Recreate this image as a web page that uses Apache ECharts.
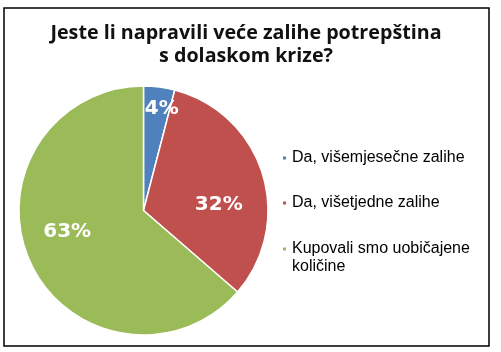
<!DOCTYPE html>
<html>
<head>
<meta charset="utf-8">
<script src="https://cdn.jsdelivr.net/npm/echarts@6/dist/echarts.min.js"></script>
<style>html,body{margin:0;padding:0;background:#fff;}#c{width:501px;height:352px;}</style>
</head>
<body>
<div id="c"></div>
<script>
const categories = ['Da, višemjesečne zalihe', 'Da, višetjedne zalihe', 'Kupovali smo uobičajene količine'];
const values = [4, 32, 63];
const colors = ['#4F81BD', '#C0504D', '#9BBB59'];
const labelOffsets = [[10, -37], [13, 14], [-17, -6]];

const chart = echarts.init(document.getElementById('c'), null, {renderer: 'canvas'});
const legendTops = [149, 194, 222];
const legends = categories.map((name, i) => ({
  data: [name],
  left: 281,
  top: legendTops[i],
  padding: 0,
  orient: 'vertical',
  icon: 'rect',
  itemWidth: 5,
  itemHeight: 5,
  itemGap: 0,
  selectedMode: false,
  formatter: n => n === categories[2] ? ' \nKupovali smo uobičajene\nkoličine' : n,
  textStyle: {fontFamily: 'Liberation Sans', fontSize: 16, color: '#000', lineHeight: 18}
}));
chart.setOption({
  animation: false,
  backgroundColor: '#fff',
  title: {
    text: 'Jeste li napravili veće zalihe potrepština\ns dolaskom krize?',
    left: 246,
    top: 22,
    padding: 0,
    textAlign: 'center',
    textStyle: {fontFamily: 'Open Sans', fontWeight: 'bold', fontSize: 19.7, color: '#111', lineHeight: 23}
  },
  legend: legends,
  graphic: [{
    type: 'rect', shape: {x: 4, y: 8, width: 485, height: 338},
    style: {fill: 'none', stroke: '#000', lineWidth: 1.5}, silent: true
  }],
  series: [{
    type: 'pie',
    center: [143.5, 210.5],
    radius: 124.5,
    startAngle: 90,
    clockwise: true,
    itemStyle: {borderColor: '#fff', borderWidth: 1.5},
    label: {
      show: true, position: 'inside',
      formatter: p => p.value + '%',
      color: '#fff', fontFamily: 'DejaVu Sans', fontWeight: 'bold', fontSize: 20
    },
    labelLine: {show: false},
    emphasis: {disabled: true},
    data: categories.map((n, i) => ({
      name: n, value: values[i],
      itemStyle: {color: colors[i]},
      label: {offset: labelOffsets[i]}
    }))
  }]
});
</script>
</body>
</html>
